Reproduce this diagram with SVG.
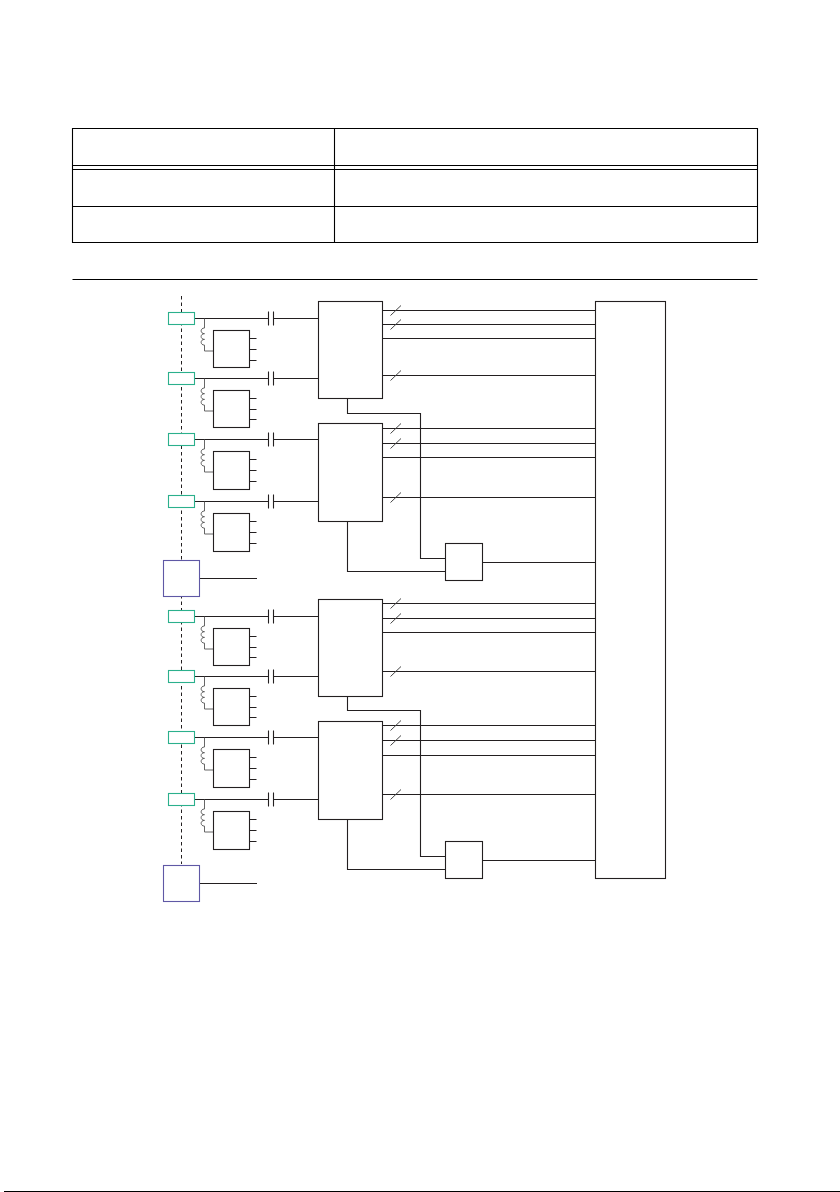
<svg xmlns="http://www.w3.org/2000/svg" width="840" height="1192" viewBox="0 0 840 1192">
<style>
.l{fill:none;stroke:#231f20;stroke-width:1.100}
.b{fill:#fff;stroke:#231f20;stroke-width:1.100}
.g{fill:#fff;stroke:#2bb08c;stroke-width:1.100}
.v{fill:#fff;stroke:#5f58a5;stroke-width:1.100}
.c{fill:none;stroke:#555;stroke-width:.9}
.s{fill:none;stroke:#444;stroke-width:1}
.t{fill:none;stroke:#000;stroke-width:1.100}
</style>
<defs>
<g id="tap">
<path class="l" d="M13 6H87M92 6H137M87-1V13M92-1V13"/>
<path class="c" d="M23 6V15.500c-4.500 0-4.500 5.700 0 5.700c-4.500 0-4.500 5.700 0 5.700c-4.500 0-4.500 5.700 0 5.700V38.500H32"/>
</g>
<path id="sl" class="s" d="M0 5L10.500-5"/>
</defs>
<g id="table">
<path class="t" d="M72.500 128.500H757.500V242.500H72.500ZM334.500 128.500V242.500M72.500 165.500H757.500M72.500 169.500H757.500M72.500 206.500H757.500"/>
<path class="t" d="M72.500 279.500H757.500"/>
</g>
<g id="connectors">
<path d="M181.500 296V864" fill="none" stroke="#231f20" stroke-width="1" stroke-dasharray="3.500 3"/>
<use href="#tap" x="181.500" y="312.500"/>
<use href="#tap" x="181.500" y="372.500"/>
<use href="#tap" x="181.500" y="433.500"/>
<use href="#tap" x="181.500" y="495.500"/>
<use href="#tap" x="181.500" y="610.500"/>
<use href="#tap" x="181.500" y="670.500"/>
<use href="#tap" x="181.500" y="731.500"/>
<use href="#tap" x="181.500" y="793.500"/>
<path class="l" d="M249.500 338.500h7M249.500 349.500h7M249.500 360.500h7M249.500 398.500h7M249.500 409.500h7M249.500 419.500h7M249.500 459.500h7M249.500 470.500h7M249.500 481.500h7M249.500 521.500h7M249.500 532.500h7M249.500 543.500h7"/>
<path class="l" d="M249.500 636.500h7M249.500 647.500h7M249.500 657.500h7M249.500 696.500h7M249.500 707.500h7M249.500 717.500h7M249.500 757.500h7M249.500 768.500h7M249.500 779.500h7M249.500 819.500h7M249.500 830.500h7M249.500 841.500h7"/>
<path class="l" d="M199.500 578.500H257M199.500 883.500H257"/>
<path class="l" d="M382.500 310.500H595.500M382.500 324.500H595.500M382.500 338.500H595.500M382.500 375.500H595.500M382.500 428.500H595.500M382.500 443.500H595.500M382.500 457.500H595.500M382.500 497.500H595.500M382.500 603.500H595.500M382.500 618.500H595.500M382.500 632.500H595.500M382.500 671.500H595.500M382.500 725.500H595.500M382.500 740.500H595.500M382.500 755.500H595.500M382.500 794.500H595.500"/>
<path class="l" d="M347.500 398.500V413.500H420.500V558.500H445.500M347.500 521.500V571.500H445.500M482.500 562.500H595.500M347.500 696.500V710.500H420.500V856.500H445.500M347.500 819.500V869.500H445.500M482.500 860.500H595.500"/>
<use href="#sl" x="390.500" y="310.500"/><use href="#sl" x="390.500" y="324.500"/><use href="#sl" x="390.500" y="375.500"/>
<use href="#sl" x="390.500" y="428.500"/><use href="#sl" x="390.500" y="443.500"/><use href="#sl" x="390.500" y="497.500"/>
<use href="#sl" x="390.500" y="603.500"/><use href="#sl" x="390.500" y="618.500"/><use href="#sl" x="390.500" y="671.500"/>
<use href="#sl" x="390.500" y="725.500"/><use href="#sl" x="390.500" y="740.500"/><use href="#sl" x="390.500" y="794.500"/>
</g>
<g id="couplers">
<rect class="g" x="168.500" y="312.500" width="26" height="12"/>
<rect class="g" x="168.500" y="372.500" width="26" height="12"/>
<rect class="g" x="168.500" y="433.500" width="26" height="12"/>
<rect class="g" x="168.500" y="495.500" width="26" height="12"/>
<rect class="g" x="168.500" y="610.500" width="26" height="12"/>
<rect class="g" x="168.500" y="670.500" width="26" height="12"/>
<rect class="g" x="168.500" y="731.500" width="26" height="12"/>
<rect class="g" x="168.500" y="793.500" width="26" height="12"/>
</g>
<g id="terminations">
<rect class="v" x="163.500" y="560.500" width="36" height="36"/>
<rect class="v" x="163.500" y="865.500" width="36" height="36"/>
</g>
<g id="magnetics">
<rect class="b" x="213.500" y="330.500" width="36" height="37"/>
<rect class="b" x="213.500" y="390.500" width="36" height="37"/>
<rect class="b" x="213.500" y="451.500" width="36" height="38"/>
<rect class="b" x="213.500" y="513.500" width="36" height="38"/>
<rect class="b" x="213.500" y="628.500" width="36" height="37"/>
<rect class="b" x="213.500" y="688.500" width="36" height="37"/>
<rect class="b" x="213.500" y="749.500" width="36" height="38"/>
<rect class="b" x="213.500" y="811.500" width="36" height="38"/>
</g>
<g id="transceivers">
<rect class="b" x="318.500" y="301.500" width="64" height="97"/>
<rect class="b" x="318.500" y="423.500" width="64" height="98"/>
<rect class="b" x="318.500" y="599.500" width="64" height="97"/>
<rect class="b" x="318.500" y="721.500" width="64" height="98"/>
</g>
<g id="mux">
<rect class="b" x="445.500" y="543.500" width="37" height="37"/>
<rect class="b" x="445.500" y="841.500" width="37" height="37"/>
</g>
<g id="controller"><rect class="b" x="595.500" y="301.500" width="70" height="577"/></g>
<rect x="4" y="1191" width="836" height="1" fill="#000"/>
</svg>
